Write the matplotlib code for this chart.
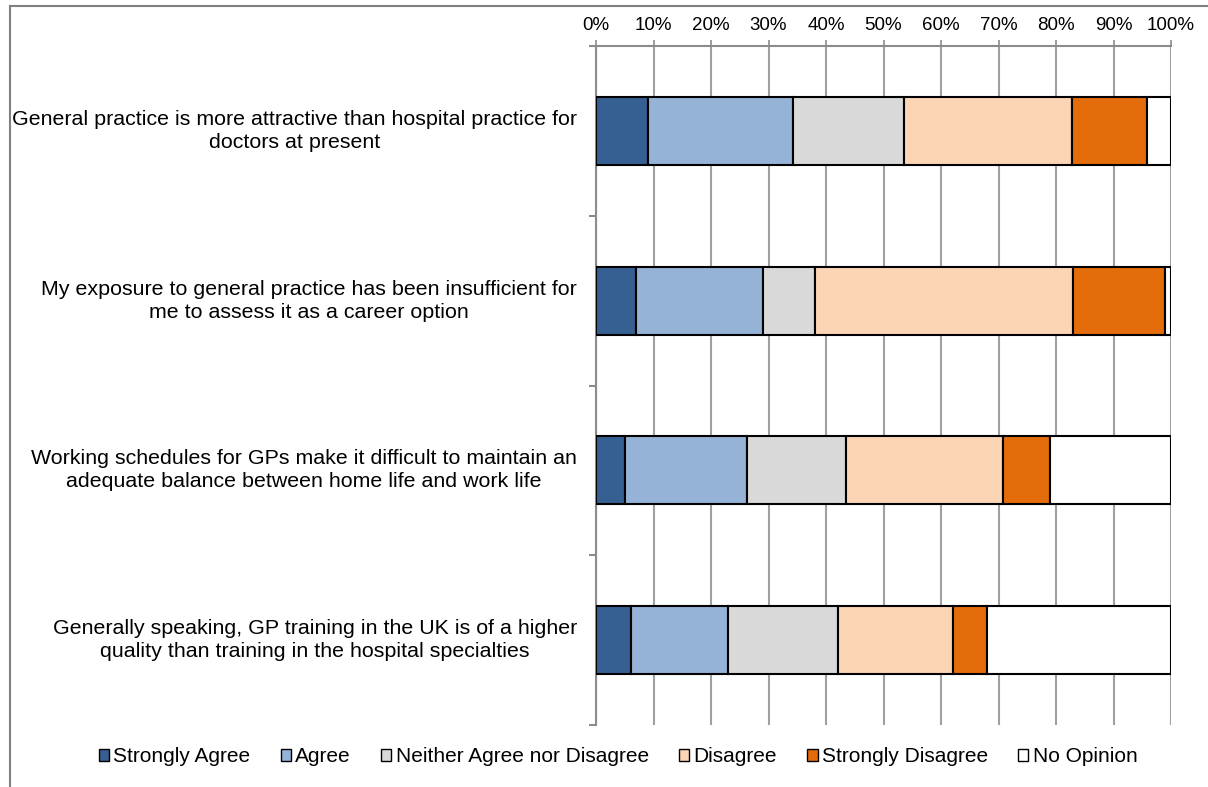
import matplotlib.pyplot as plt
from matplotlib.lines import Line2D
from matplotlib.patches import Patch

# ==========================
# Data
# ==========================

statements = [
    "General practice is more attractive than hospital practice for\ndoctors at present",
    "My exposure to general practice has been insufficient for\nme to assess it as a career option",
    "Working schedules for GPs make it difficult to maintain an\nadequate balance between home life and work life",
    "Generally speaking, GP training in the UK is of a higher\nquality than training in the hospital specialties",
]

responses = ["Strongly Agree", "Agree", "Neither Agree nor Disagree",
             "Disagree", "Strongly Disagree", "No Opinion"]

strongly_agree = [9.1, 7.0, 5.0, 6.0]
agree = [25.2, 22.0, 21.2, 17.0]
neither = [19.2, 9.0, 17.2, 19.0]
disagree = [29.3, 44.9, 27.3, 20.0]
strongly_disagree = [13.1, 16.1, 8.2, 6.0]
no_opinion = [4.1, 1.0, 21.1, 32.0]

series = [strongly_agree, agree, neither, disagree, strongly_disagree, no_opinion]
colors = ["#366092", "#95B3D7", "#D9D9D9", "#FCD5B5", "#E46C0A", "#FFFFFF"]

x_ticks = list(range(0, 101, 10))
x_labels = [f"{t}%" for t in x_ticks]

# ==========================
# Figure
# ==========================

plt.rcParams["font.family"] = ["Liberation Sans", "DejaVu Sans"]

fig = plt.figure(figsize=(12.08, 7.87), dpi=100)
ax = fig.add_axes([596 / 1208, 1 - 725 / 787, 575 / 1208, 679 / 787])

ypos = list(range(len(statements)))
left = [0.0] * len(statements)
for name, vals, col in zip(responses, series, colors):
    ax.barh(ypos, vals, left=left, height=0.4, color=col,
            edgecolor="black", linewidth=1.5, label=name, zorder=3)
    left = [l + v for l, v in zip(left, vals)]

ax.set_xlim(0, 100)
ax.set_ylim(3.5, -0.5)

# x axis on top
ax.xaxis.tick_top()
ax.set_xticks(x_ticks)
ax.set_xticklabels(x_labels, fontsize=13.5)
ax.tick_params(axis="x", length=4, width=1.2, color="#8C8C8C", pad=5)
ax.grid(axis="x", color="#A0A0A0", linewidth=1.5, zorder=0)

# y axis: ticks at category boundaries, labels drawn as text
ax.set_yticks([-0.5, 0.5, 1.5, 2.5, 3.5])
ax.set_yticklabels([])
ax.tick_params(axis="y", length=5, width=1.5, color="#8C8C8C")
for y, s in zip(ypos, statements):
    ax.text(-19 / 575, y, s, ha="right", va="center", multialignment="center",
            fontsize=15.4, linespacing=1.25, transform=ax.get_yaxis_transform())

for side in ["bottom", "right"]:
    ax.spines[side].set_visible(False)
for side in ["top", "left"]:
    ax.spines[side].set_color("#8C8C8C")
    ax.spines[side].set_linewidth(1.5)

# outer chart frame (top and left edges)
fig.add_artist(Line2D([10 / 1208, 1], [1 - 6 / 787, 1 - 6 / 787],
                      color="#808080", linewidth=1.5, transform=fig.transFigure))
fig.add_artist(Line2D([10 / 1208, 10 / 1208], [0, 1 - 6 / 787],
                      color="#808080", linewidth=1.5, transform=fig.transFigure))

# legend
handles = [Patch(facecolor=c, edgecolor="black", linewidth=1.0) for c in colors]
fig.legend(handles, responses, loc="center", bbox_to_anchor=(618 / 1208, 1 - 757 / 787),
           ncol=6, frameon=False, fontsize=15, handlelength=0.5, handleheight=0.5,
           handletextpad=0.2, columnspacing=1.45)

plt.savefig("out.png", dpi=100)
